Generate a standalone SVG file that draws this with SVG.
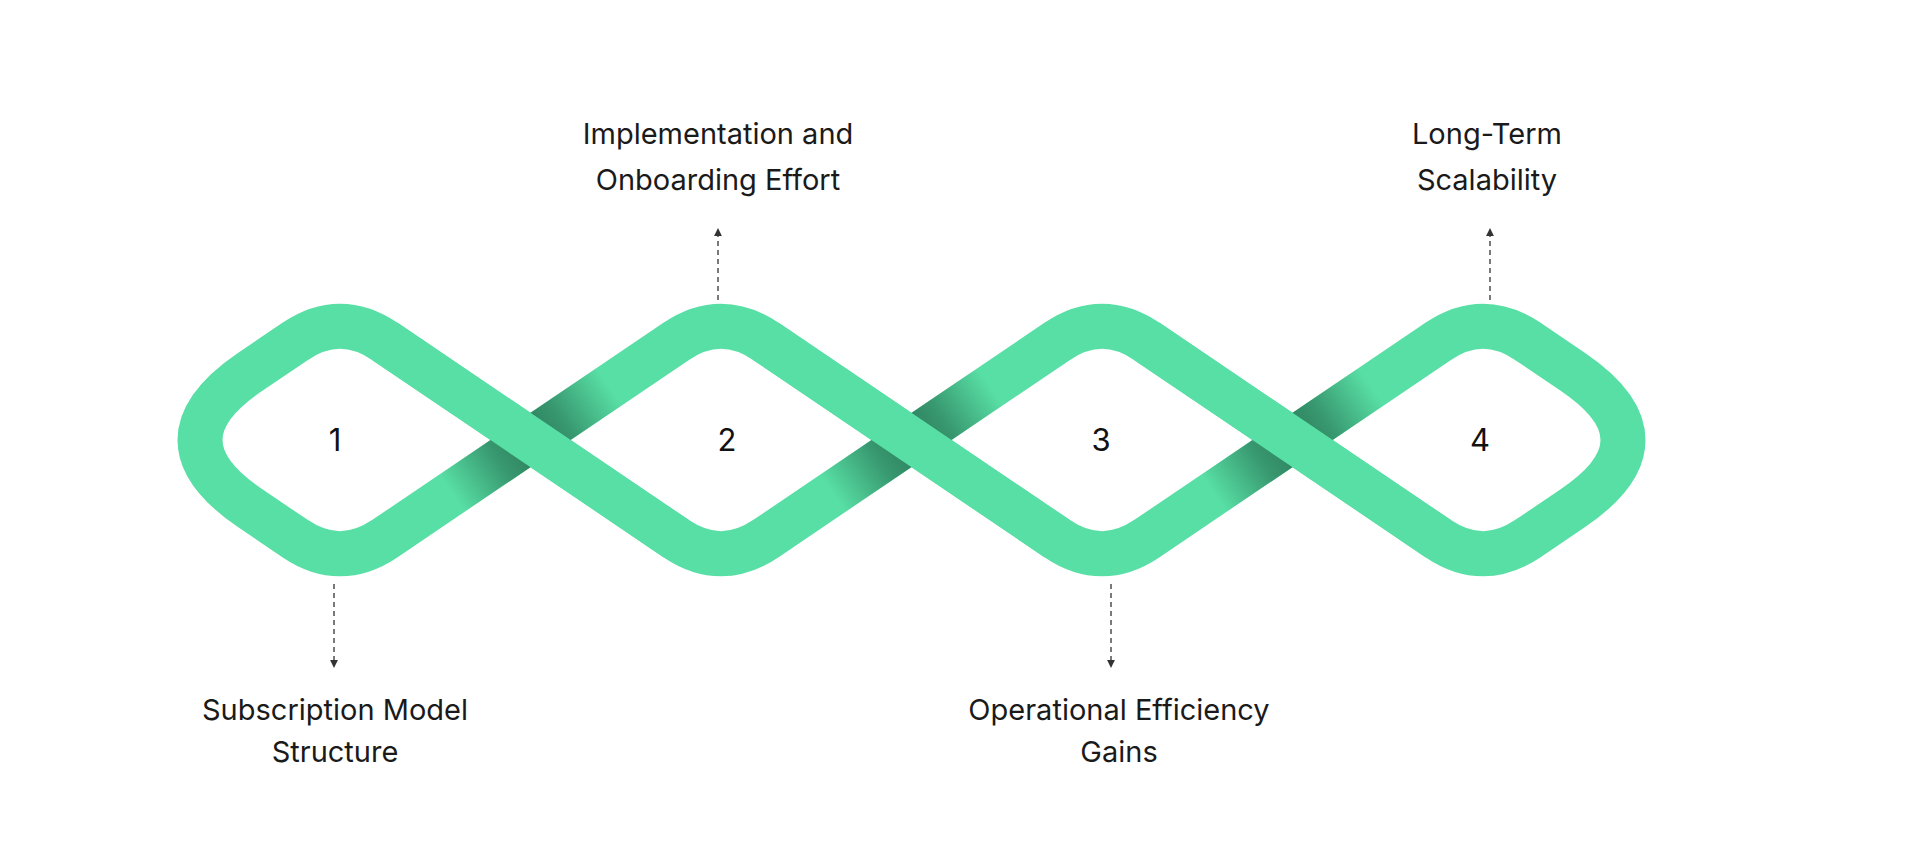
<svg xmlns="http://www.w3.org/2000/svg" width="1917" height="854" viewBox="0 0 1917 854">
<style>
.band{fill:none;stroke:#58dfa5;stroke-width:45;stroke-linejoin:round}
.over{fill:none;stroke:#58dfa5;stroke-width:45;stroke-linecap:butt}
.shade{stroke:url(#sh);stroke-width:45}
.lbl{font-family:Inter,"Liberation Sans",sans-serif;font-size:29px;fill:#1a1a1a;text-anchor:middle}
.num{font-family:Inter,"Liberation Sans",sans-serif;font-size:31px;fill:#111;text-anchor:middle}
.dash{stroke:#333;stroke-width:1.3;stroke-dasharray:5 4;fill:none}
</style>
<defs>
<linearGradient id="sh" gradientUnits="userSpaceOnUse" x1="-95" y1="0" x2="95" y2="0">
<stop offset="0" stop-color="#1e5e44" stop-opacity="0"/>
<stop offset="0.3" stop-color="#1e5e44" stop-opacity="0.55"/>
<stop offset="0.5" stop-color="#1e5e44" stop-opacity="0.75"/>
<stop offset="0.7" stop-color="#1e5e44" stop-opacity="0.55"/>
<stop offset="1" stop-color="#1e5e44" stop-opacity="0"/>
</linearGradient>
<marker id="ah" viewBox="0 0 6 6" refX="3" refY="3" markerWidth="6" markerHeight="6" orient="auto-start-reverse">
<path d="M0,0 L6,3 L0,6 Z" fill="#333"/>
</marker>
</defs>
<rect width="1917" height="854" fill="#fff"/>
<g id="ribbon">
<path class="band" d="M250.5,371.6 L295,341.5 Q340,311 385,341.5 L676,538.5 Q721,569 766,538.5 L1057,341.5 Q1102,311 1147,341.5 L1438,538.5 Q1483,569 1528,538.5 L1572.5,508.4 Q1673.5,440 1572.5,371.6 L1528,341.5 Q1483,311 1438,341.5 L1147,538.5 Q1102,569 1057,538.5 L766,341.5 Q721,311 676,341.5 L385,538.5 Q340,569 295,538.5 L250.5,508.4 Q149.5,440 250.5,371.6 Z"/>
<g transform="translate(530.5,440) rotate(-34.1)"><line class="shade" x1="-95" y1="0" x2="95" y2="0"/></g>
<g transform="translate(911.5,440) rotate(-34.1)"><line class="shade" x1="-95" y1="0" x2="95" y2="0"/></g>
<g transform="translate(1292.5,440) rotate(-34.1)"><line class="shade" x1="-95" y1="0" x2="95" y2="0"/></g>
<line class="over" x1="385" y1="341.5" x2="676" y2="538.5"/>
<line class="over" x1="766" y1="341.5" x2="1057" y2="538.5"/>
<line class="over" x1="1147" y1="341.5" x2="1438" y2="538.5"/>
</g>
<g id="connectors">
<line class="dash" x1="334" y1="584" x2="334" y2="664" marker-end="url(#ah)"/>
<line class="dash" x1="718" y1="300" x2="718" y2="232" marker-end="url(#ah)"/>
<line class="dash" x1="1111" y1="584" x2="1111" y2="664" marker-end="url(#ah)"/>
<line class="dash" x1="1490" y1="300" x2="1490" y2="232" marker-end="url(#ah)"/>
</g>
<g id="node1"><text class="num" x="335" y="451">1</text>
<text class="lbl" x="335" y="720">Subscription Model</text><text class="lbl" x="335" y="762">Structure</text></g>
<g id="node2"><text class="num" x="727" y="451">2</text>
<text class="lbl" x="718" y="144">Implementation and</text><text class="lbl" x="718" y="190">Onboarding Effort</text></g>
<g id="node3"><text class="num" x="1101" y="451">3</text>
<text class="lbl" x="1119" y="720">Operational Efficiency</text><text class="lbl" x="1119" y="762">Gains</text></g>
<g id="node4"><text class="num" x="1480" y="451">4</text>
<text class="lbl" x="1487" y="144">Long-Term</text><text class="lbl" x="1487" y="190">Scalability</text></g>
</svg>
